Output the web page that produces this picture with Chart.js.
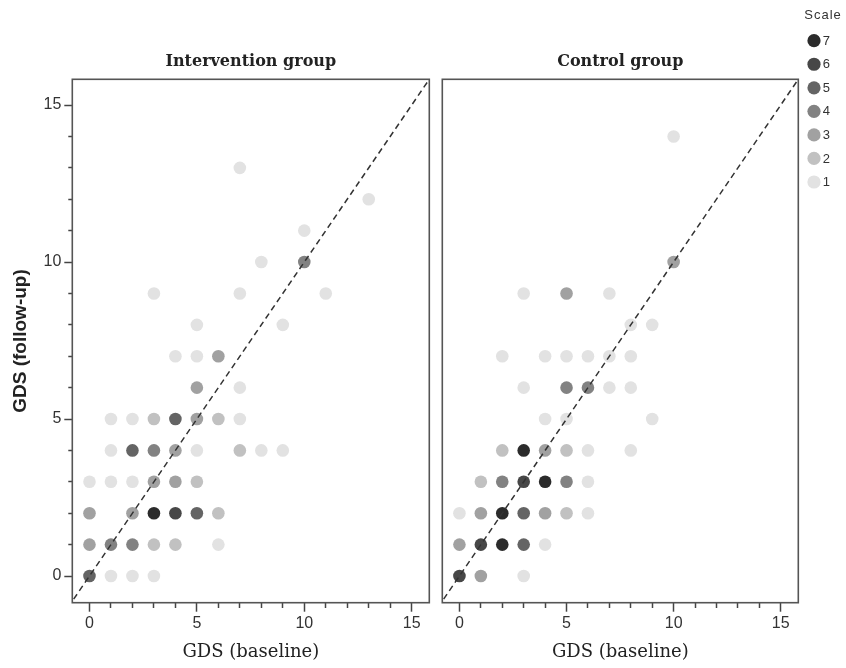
<!DOCTYPE html>
<html>
<head>
<meta charset="utf-8">
<script src="https://cdn.jsdelivr.net/npm/chart.js@4.4.0/dist/chart.umd.min.js"></script>
<style>
  html, body { margin: 0; padding: 0; background: #fff; }
  #wrap { position: relative; width: 846px; height: 668px; }
  .panel { position: absolute; top: 0; height: 668px; }
  #left { left: 0; width: 436px; }
  #right { left: 436px; width: 410px; }
</style>
</head>
<body>
<div id="wrap">
  <div class="panel" id="left"><canvas id="leftChart"></canvas></div>
  <div class="panel" id="right"><canvas id="rightChart"></canvas></div>
</div>
<script>
// GDS at baseline (x), at follow-up (y) and how many people sit on each point
const interventionBaseline = [0, 1, 2, 3,  0, 1, 2, 3, 4, 6,  0, 2, 3, 4, 5, 6,  0, 1, 2, 3, 4, 5,
  1, 2, 3, 4, 5, 7, 8, 9,  1, 2, 3, 4, 5, 6, 7,  5, 7,  4, 5, 6,  5, 9,  3, 7, 11,  8, 10,  10,  13,  7];
const interventionFollowUp = [0, 0, 0, 0,  1, 1, 1, 1, 1, 1,  2, 2, 2, 2, 2, 2,  3, 3, 3, 3, 3, 3,
  4, 4, 4, 4, 4, 4, 4, 4,  5, 5, 5, 5, 5, 5, 5,  6, 6,  7, 7, 7,  8, 8,  9, 9, 9,  10, 10,  11,  12,  13];
const interventionCount = [5, 1, 1, 1,  3, 4, 4, 2, 2, 1,  3, 3, 7, 6, 5, 2,  1, 1, 1, 3, 3, 2,
  1, 5, 4, 3, 1, 2, 1, 1,  1, 1, 2, 5, 3, 2, 1,  3, 1,  1, 1, 3,  1, 1,  1, 1, 1,  1, 4,  1,  1,  1];

const controlBaseline = [0, 1, 3,  0, 1, 2, 3, 4,  0, 1, 2, 3, 4, 5, 6,  1, 2, 3, 4, 5, 6,
  2, 3, 4, 5, 6, 8,  4, 5, 9,  3, 5, 6, 7, 8,  2, 4, 5, 6, 7, 8,  8, 9,  3, 5, 7,  10,  10];
const controlFollowUp = [0, 0, 0,  1, 1, 1, 1, 1,  2, 2, 2, 2, 2, 2, 2,  3, 3, 3, 3, 3, 3,
  4, 4, 4, 4, 4, 4,  5, 5, 5,  6, 6, 6, 6, 6,  7, 7, 7, 7, 7, 7,  8, 8,  9, 9, 9,  10,  14];
const controlCount = [6, 3, 1,  3, 6, 7, 5, 1,  1, 3, 7, 5, 3, 2, 1,  2, 4, 6, 7, 4, 1,
  2, 7, 3, 2, 1, 1,  1, 1, 1,  1, 4, 4, 1, 1,  1, 1, 1, 1, 1, 1,  1, 1,  1, 3, 1,  3,  1];

const levels = [7, 6, 5, 4, 3, 2, 1];
const levelColors = ['#2b2b2b', '#474747', '#646464', '#828282', '#a1a1a1', '#c1c1c1', '#e2e2e2'];
const axisTicks = [0, 5, 10, 15];
const axisMin = { x: -0.8, y: -0.85 };
const axisMax = 15.82;

const tickFont = { family: 'Liberation Sans Narrow, Liberation Sans, sans-serif', size: 16 };

function buildDatasets(xs, ys, ns) {
  // the y = x reference line goes first so it is drawn on top of the dots
  const sets = [{
    data: [{ x: -1, y: -1 }, { x: 16, y: 16 }],
    showLine: true,
    borderColor: '#333',
    borderWidth: 1.5,
    borderDash: [6, 4],
    pointRadius: 0,
    pointHoverRadius: 0,
    clip: 0
  }];
  levels.forEach((lv, i) => {
    const pts = [];
    xs.forEach((x, k) => {
      if (ns[k] === lv) pts.push({ x: x, y: ys[k] });
    });
    sets.push({
      label: String(lv),
      data: pts,
      backgroundColor: levelColors[i],
      pointRadius: 6.3,
      pointHoverRadius: 6.3,
      pointBorderWidth: 0
    });
  });
  return sets;
}

function tickGrid(len, minorLen, outerFirst) {
  return {
    drawOnChartArea: false,
    drawTicks: true,
    tickLength: len,
    tickColor: '#444',
    tickWidth: 1.5,
    // minor ticks are shorter: only the part next to the frame is drawn
    tickBorderDash: ctx => axisTicks.includes(ctx.tick.value) ? [] :
      (outerFirst ? [0, len - minorLen, minorLen, 100] : [minorLen, 100])
  };
}

function tickLabels(pad) {
  return {
    stepSize: 1,
    includeBounds: false,
    autoSkip: false,
    maxRotation: 0,
    padding: pad,
    color: '#333',
    font: tickFont,
    callback: v => axisTicks.includes(v) ? String(v) : ''
  };
}

const framePlugin = {
  id: 'frame',
  afterDatasetsDraw(chart) {
    const { ctx, chartArea: a } = chart;
    ctx.save();
    ctx.strokeStyle = '#555';
    ctx.lineWidth = 1.6;
    ctx.strokeRect(a.left, a.top, a.right - a.left, a.bottom - a.top);
    ctx.restore();
  }
};

const scaleLegend = {
  id: 'scaleLegend',
  afterDraw(chart) {
    const ctx = chart.ctx;
    const r = chart.chartArea.right;
    ctx.save();
    ctx.fillStyle = '#333';
    ctx.font = '13px "Liberation Sans", sans-serif';
    ctx.textBaseline = 'middle';
    ctx.textAlign = 'left';
    if ('letterSpacing' in ctx) ctx.letterSpacing = '1px';
    ctx.fillText('Scale', r + 6, 15);
    ctx.letterSpacing = '0px';
    levels.forEach((lv, i) => {
      const y = 40.7 + i * 23.55;
      ctx.beginPath();
      ctx.arc(r + 15.7, y, 6.6, 0, Math.PI * 2);
      ctx.fillStyle = levelColors[i];
      ctx.fill();
      ctx.fillStyle = '#333';
      ctx.fillText(String(lv), r + 24.5, y + 0.5);
    });
    ctx.restore();
  }
};

function makeChart(id, title, xs, ys, ns, isLeft) {
  return new Chart(document.getElementById(id), {
    type: 'scatter',
    data: { datasets: buildDatasets(xs, ys, ns) },
    options: {
      responsive: true,
      maintainAspectRatio: false,
      animation: false,
      layout: { padding: isLeft ? { left: 0, right: 6.7, top: 0, bottom: 0 } : { left: 4, right: 47.7, top: 0, bottom: 0 } },
      plugins: {
        legend: { display: false },
        tooltip: { enabled: false },
        title: {
          display: true,
          text: title,
          fullSize: false,
          color: '#222',
          font: { family: 'DejaVu Serif, serif', size: 16, weight: 'bold', lineHeight: 1.2 },
          padding: { top: 52.4, bottom: 7.7 }
        }
      },
      scales: {
        x: {
          type: 'linear',
          position: 'bottom',
          min: axisMin.x,
          max: axisMax,
          border: { display: false },
          grid: tickGrid(9, 5, false),
          ticks: tickLabels(2),
          title: {
            display: true,
            text: 'GDS (baseline)',
            color: '#222',
            font: { family: 'DejaVu Serif, serif', size: 18, lineHeight: 1.2 },
            padding: { top: 0, bottom: 5.2 }
          },
          afterFit: s => { s.height = 65.3; }
        },
        y: {
          type: 'linear',
          position: 'left',
          display: isLeft,
          min: axisMin.y,
          max: axisMax,
          border: { display: false },
          grid: tickGrid(8, 4, true),
          ticks: tickLabels(3),
          title: {
            display: true,
            text: 'GDS (follow-up)',
            color: '#222',
            font: { family: 'Liberation Sans, Arial, sans-serif', size: 19, weight: 'bold', lineHeight: 1.2 },
            padding: { top: 9.6, bottom: 0 }
          },
          afterFit: s => { s.width = isLeft ? 72.3 : 0; }
        }
      }
    },
    plugins: isLeft ? [framePlugin] : [framePlugin, scaleLegend]
  });
}

makeChart('leftChart', 'Intervention group', interventionBaseline, interventionFollowUp, interventionCount, true);
makeChart('rightChart', 'Control group', controlBaseline, controlFollowUp, controlCount, false);
</script>
</body>
</html>
